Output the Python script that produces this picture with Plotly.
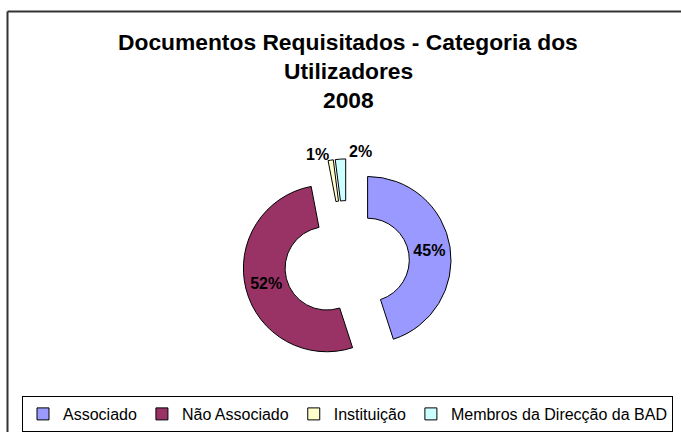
import math
import plotly.graph_objects as go

W, H = 681, 432

# ---- data ----
categories = ["Associado", "Não Associado", "Instituição", "Membros da Direcção da BAD"]
values = [45, 52, 1, 2]
colors = ["#9999FF", "#993366", "#FFFFCC", "#CCFFFF"]
title_lines = ["Documentos Requisitados - Categoria dos", "Utilizadores", "2008"]

FONT = "Arial, Liberation Sans, sans-serif"

def px(x):
    return x / W

def py(y):
    return 1 - y / H

cx, cy, box = 347, 265, 105
pull = 0.25
hole = 0.5
outside = [False, False, True, True]

fig = go.Figure(go.Pie(
    labels=categories,
    values=values,
    sort=False,
    direction="clockwise",
    rotation=0,
    hole=hole,
    pull=[pull] * len(values),
    marker=dict(colors=colors, line=dict(color="black", width=1)),
    textinfo="percent",
    textposition=["none" if o else "inside" for o in outside],
    insidetextorientation="horizontal",
    textfont=dict(family=FONT, size=16, color="black", weight="bold"),
    domain=dict(x=[px(cx - box), px(cx + box)], y=[py(cy + box), py(cy - box)]),
))

annotations = []
for txt, yc in zip(title_lines, [42, 72, 101]):
    annotations.append(dict(
        text="<b>%s</b>" % txt, x=px(348), y=py(yc), xref="paper", yref="paper",
        xanchor="center", yanchor="middle", showarrow=False,
        font=dict(family=FONT, size=22.8, color="black"),
    ))

# outside percentage labels for the small slices, placed along each slice's bisector
r_out = box / (1 + pull)          # outer radius in px
total = sum(values)
cum = 0
side = 0
for v, o in zip(values, outside):
    mid = (cum + v / 2) / total * 2 * math.pi
    cum += v
    if not o:
        continue
    R = r_out * (1 + pull) + 9
    lx = cx + R * math.sin(mid)
    ly = cy - R * math.cos(mid)
    anchor = "right" if side == 0 else "left"
    shift = 2 if side == 0 else 7
    yshift = -3 if side == 0 else -1
    side += 1
    annotations.append(dict(
        text="<b>%d%%</b>" % round(100 * v / total), x=px(lx), y=py(ly),
        xref="paper", yref="paper", xanchor=anchor, yanchor="middle",
        xshift=shift, yshift=yshift, showarrow=False,
        font=dict(family=FONT, size=16, color="black"),
    ))

shapes = [
    dict(type="line", xref="paper", yref="paper", x0=px(7.5), y0=py(11.5), x1=px(700), y1=py(11.5),
         line=dict(color="#333333", width=2)),
    dict(type="line", xref="paper", yref="paper", x0=px(7.5), y0=py(11.5), x1=px(7.5), y1=py(450),
         line=dict(color="#333333", width=2)),
]

fig.update_layout(
    width=W, height=H,
    margin=dict(l=0, r=0, t=0, b=0),
    paper_bgcolor="white", plot_bgcolor="white",
    font=dict(family=FONT, color="black"),
    annotations=annotations,
    shapes=shapes,
    showlegend=True,
    legend=dict(
        orientation="h", x=px(22), y=py(399), xanchor="left", yanchor="top",
        font=dict(family=FONT, size=16, color="black"),
        bordercolor="black", borderwidth=1, bgcolor="white",
        itemwidth=30,
    ),
)

fig.write_html("out.html", config={"displayModeBar": False},
               post_script="document.body.style.margin='0';")
